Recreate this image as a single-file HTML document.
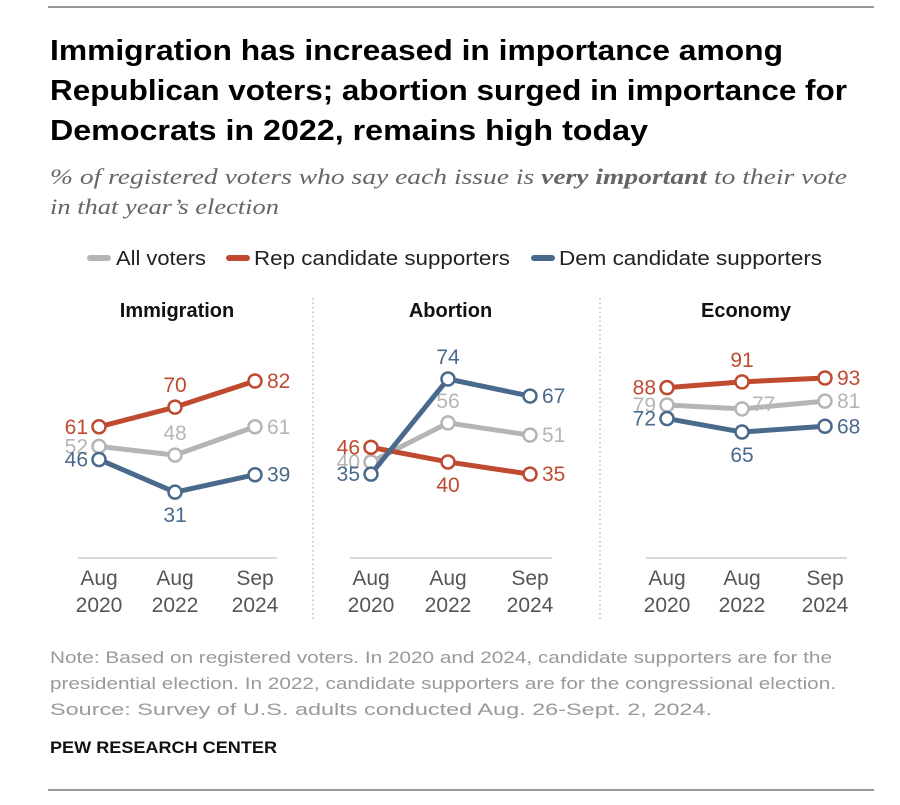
<!DOCTYPE html>
<html><head><meta charset="utf-8"><style>
body{margin:0;background:#fff;width:900px;height:800px;overflow:hidden;font-family:"Liberation Sans",sans-serif;}
</style></head><body>
<svg width="900" height="800" font-family="Liberation Sans, sans-serif">
<line x1="48" y1="7" x2="874" y2="7" stroke="#333" stroke-width="1"/>
<g font-size="29" font-weight="bold" fill="#000">
<text x="50" y="60" textLength="733" lengthAdjust="spacingAndGlyphs">Immigration has increased in importance among</text>
<text x="50" y="100" textLength="797" lengthAdjust="spacingAndGlyphs">Republican voters; abortion surged in importance for</text>
<text x="50" y="140" textLength="598" lengthAdjust="spacingAndGlyphs">Democrats in 2022, remains high today</text></g>
<g font-size="22" font-style="italic" fill="#666" font-family="Liberation Serif, serif">
<text x="50" y="184" textLength="797" lengthAdjust="spacingAndGlyphs">% of registered voters who say each issue is <tspan font-weight="bold">very important</tspan> to their vote</text>
<text x="50" y="214" textLength="229" lengthAdjust="spacingAndGlyphs">in that year’s election</text></g>
<g font-size="20" fill="#222">
<line x1="90" y1="258" x2="108" y2="258" stroke="#b5b5b5" stroke-width="6" stroke-linecap="round"/>
<text x="116" y="265" textLength="90" lengthAdjust="spacingAndGlyphs">All voters</text>
<line x1="229" y1="258" x2="247" y2="258" stroke="#bf4a30" stroke-width="6" stroke-linecap="round"/>
<text x="254" y="265" textLength="256" lengthAdjust="spacingAndGlyphs">Rep candidate supporters</text>
<line x1="534" y1="258" x2="552" y2="258" stroke="#4a6a8c" stroke-width="6" stroke-linecap="round"/>
<text x="559" y="265" textLength="263" lengthAdjust="spacingAndGlyphs">Dem candidate supporters</text>
</g>
<line x1="313" y1="298" x2="313" y2="620" stroke="#999" stroke-dasharray="1.5,3"/>
<line x1="600" y1="298" x2="600" y2="620" stroke="#999" stroke-dasharray="1.5,3"/>
<g id="panels"></g>
<g font-size="17" fill="#999">
<text x="50" y="663" textLength="782" lengthAdjust="spacingAndGlyphs">Note: Based on registered voters. In 2020 and 2024, candidate supporters are for the</text>
<text x="50" y="689" textLength="786" lengthAdjust="spacingAndGlyphs">presidential election. In 2022, candidate supporters are for the congressional election.</text>
<text x="50" y="715" textLength="662" lengthAdjust="spacingAndGlyphs">Source: Survey of U.S. adults conducted Aug. 26-Sept. 2, 2024.</text>
</g>
<text x="50" y="753" font-size="17" font-weight="bold" fill="#111" textLength="227" lengthAdjust="spacingAndGlyphs">PEW RESEARCH CENTER</text>
<line x1="48" y1="790" x2="874" y2="790" stroke="#333" stroke-width="1"/>
</svg>
<script>
const panels = ["Immigration","Abortion","Economy"];
const xLabels = [["Aug","2020"],["Aug","2022"],["Sep","2024"]];
const allVoters = [[52,48,61],[40,56,51],[79,77,81]];
const repValues = [[61,70,82],[46,40,35],[88,91,93]];
const demValues = [[46,31,39],[35,74,67],[72,65,68]];
// layout (not data)
const panelX = [[99,175,255],[371,448,530],[667,742,825]];
const scaleTop = [381,379,378], scaleRef=[82,74,93], scaleK=[2.18,2.44,1.93];
const midPos = {all:["up","up","right"], rep:["up","down","up"], dem:["down","up","down"]};
const series = [
 {key:"all", vals:allVoters, color:"#b5b5b5", name:"all-voters"},
 {key:"rep", vals:repValues, color:"#bf4a30", name:"rep"},
 {key:"dem", vals:demValues, color:"#4a6a8c", name:"dem"}];
const NS="http://www.w3.org/2000/svg";
const root=document.getElementById("panels");
function mk(t,a,p){const e=document.createElementNS(NS,t);for(const k in a)e.setAttribute(k,a[k]);p.appendChild(e);return e;}
panels.forEach((p,pi)=>{
 const g=mk("g",{},root);
 
 
 const y=v=>scaleTop[pi]+(scaleRef[pi]-v)*scaleK[pi];
 const xs=panelX[pi];
 const cx=(xs[0]+xs[2])/2;
 const t=mk("text",{x:cx,y:317,"text-anchor":"middle","font-size":20,"font-weight":"bold",fill:"#111"},g);
 t.textContent=p;
 
 
 const ax=mk("line",{x1:xs[0]-21,x2:xs[2]+22,y1:558,y2:558,stroke:"#ccc","stroke-width":1.5},g);
 
 
 xLabels.forEach((l,i)=>{
  const tt=mk("text",{x:xs[i],"text-anchor":"middle","font-size":21,fill:"#555"},g);
  
  
  mk("tspan",{x:xs[i],y:585},tt).textContent=l[0];
  mk("tspan",{x:xs[i],y:612},tt).textContent=l[1];
 });
 series.forEach(s=>{
  const v=s.vals[pi];
  const pts=v.map((d,i)=>xs[i]+","+y(d)).join(" ");
  const pl=mk("polyline",{points:pts,fill:"none",stroke:s.color,"stroke-width":5,"stroke-linejoin":"round"},g);
  
  
  v.forEach((d,i)=>{
   const c=mk("circle",{cx:xs[i],cy:y(d),r:6.5,fill:"#fff",stroke:s.color,"stroke-width":2.5},g);
   
   
   let lx=xs[i],ly=y(d)+7,anc="middle";
   if(i===0){lx=xs[i]-11;anc="end";}
   else if(i===2){lx=xs[i]+12;anc="start";}
   else{const m=midPos[s.key][pi];
    if(m==="up")ly=y(d)-15;else if(m==="down")ly=y(d)+30;else{lx=xs[i]+10;ly=y(d)+2;anc="start";}}
   const lt=mk("text",{x:lx,y:ly,"text-anchor":anc,"font-size":21,fill:s.color},g);
   lt.textContent=d;
   
   
  });
 });
});
</script>
</body></html>
